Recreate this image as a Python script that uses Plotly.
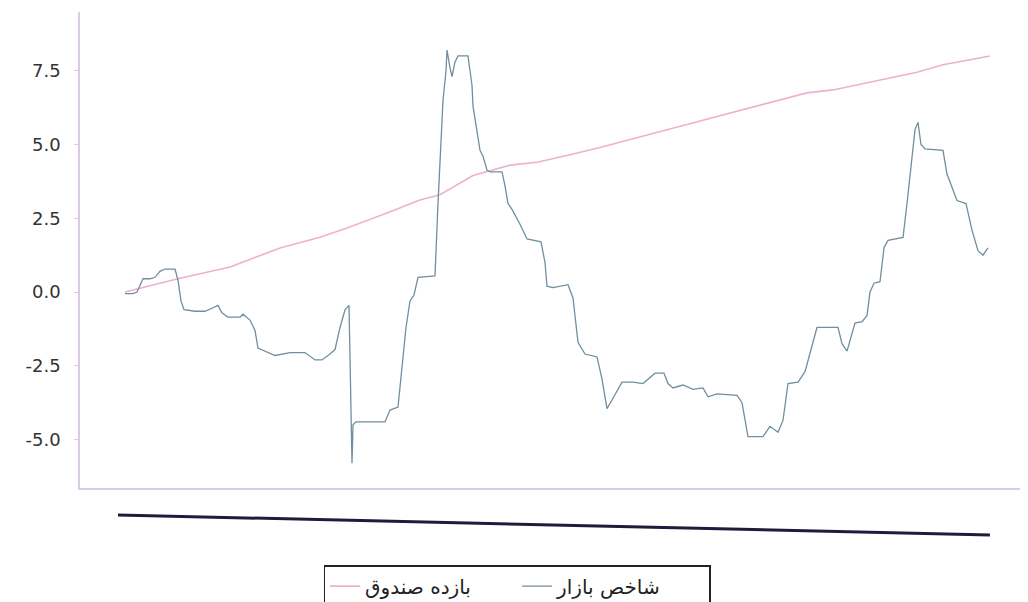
import plotly.graph_objects as go

# ---- data (x = trading-day index, y = cumulative return %) ----
fund_name = "بازده صندوق"
market_name = "شاخص بازار"

fund_x = [0, 55, 105, 155, 195, 222, 262, 295, 315, 348, 385, 412, 445, 475, 525,
          575, 625, 682, 708, 742, 792, 818, 858, 865]
fund_y = [0.0, 0.47, 0.85, 1.49, 1.86, 2.17, 2.68, 3.12, 3.3, 3.95, 4.3, 4.4, 4.65, 4.9, 5.35,
          5.8, 6.25, 6.75, 6.85, 7.1, 7.45, 7.7, 7.97, 8.0]

market_x = [0, 8, 12, 15, 18, 25, 30, 35, 40, 50, 53, 56, 59, 70, 80, 87, 93, 97, 103,
            115, 118, 125, 130, 133, 140, 150, 165, 180, 190, 197, 205, 210, 215, 220,
            224, 226, 227, 228, 231, 260, 265, 273, 277, 281, 285, 289, 293, 310, 313,
            315, 318, 321, 322, 325, 327, 330, 333, 343, 347, 348, 355, 358, 362, 365,
            377, 380, 383, 387, 395, 402, 410, 416, 420, 422, 428, 443, 448, 453, 460,
            472, 477, 482, 488, 497, 508, 518, 530, 539, 543, 548, 558, 568, 578, 583,
            592, 612, 617, 623, 638, 645, 653, 658, 663, 673, 680, 686, 692, 713, 717,
            722, 726, 730, 737, 742, 745, 749, 755, 759, 763, 778, 782, 786, 790, 793,
            796, 800, 818, 822, 832, 841, 847, 853, 858, 863]
market_y = [-0.05, -0.05, 0.0, 0.25, 0.45, 0.45, 0.5, 0.7, 0.78, 0.78, 0.4, -0.3, -0.6,
            -0.65, -0.65, -0.55, -0.45, -0.7, -0.85, -0.85, -0.75, -0.95, -1.3, -1.9, -2.0,
            -2.15, -2.05, -2.05, -2.3, -2.3, -2.1, -1.95, -1.2, -0.6, -0.45, -3.5, -5.8,
            -4.5, -4.4, -4.4, -4.0, -3.9, -2.5, -1.2, -0.3, -0.1, 0.5, 0.55, 3.0, 4.5, 6.5,
            7.5, 8.2, 7.6, 7.3, 7.8, 8.0, 8.0, 7.0, 6.3, 4.8, 4.6, 4.13, 4.07, 4.07, 3.6,
            3.0, 2.8, 2.3, 1.8, 1.75, 1.7, 1.0, 0.2, 0.15, 0.25, -0.2, -1.7, -2.1, -2.2,
            -2.95, -3.95, -3.6, -3.05, -3.05, -3.1, -2.75, -2.75, -3.1, -3.25, -3.15, -3.3,
            -3.25, -3.55, -3.45, -3.5, -3.75, -4.9, -4.9, -4.55, -4.75, -4.35, -3.1, -3.05,
            -2.7, -1.9, -1.2, -1.2, -1.75, -2.0, -1.5, -1.05, -1.0, -0.8, 0.0, 0.3, 0.35,
            1.5, 1.75, 1.85, 3.0, 4.2, 5.5, 5.75, 5.0, 4.85, 4.8, 4.0, 3.1, 3.0, 2.1, 1.4,
            1.25, 1.5]

y_ticks = [-5.0, -2.5, 0.0, 2.5, 5.0, 7.5]
y_tick_labels = ["-5.0", "-2.5", "0.0", "2.5", "5.0", "7.5"]

fig = go.Figure()
fig.add_trace(go.Scatter(x=fund_x, y=fund_y, mode="lines", name=fund_name,
                         line=dict(color="#eeb0d2", width=1.6)))
fig.add_trace(go.Scatter(x=market_x, y=market_y, mode="lines", name=market_name,
                         line=dict(color="#6f8f9e", width=1.3)))

axis_color = "#dccbe6"
fig.update_layout(
    width=1020, height=594,
    paper_bgcolor="white", plot_bgcolor="white",
    margin=dict(l=72, r=8, t=4, b=114, autoexpand=False),
    font=dict(family="DejaVu Sans", color="#333333", size=15),
    showlegend=True,
    legend=dict(orientation="h", x=0.465, xanchor="center", y=-0.162, yanchor="top",
                bordercolor="#222222", borderwidth=1.5, bgcolor="white",
                font=dict(family="DejaVu Sans", size=20, color="#222222"),
                itemwidth=30, traceorder="normal",
                entrywidth=147, entrywidthmode="pixels"),
    xaxis=dict(range=[-45, 895], showgrid=False, zeroline=False, showticklabels=False,
               ticks="", showline=True, linecolor=axis_color, linewidth=1.5),
    yaxis=dict(range=[-6.64, 9.49], showgrid=False, zeroline=False,
               tickvals=y_ticks, ticktext=y_tick_labels, ticks="outside", ticklen=4,
               tickcolor=axis_color, showline=True, linecolor=axis_color, linewidth=1.5,
               ticklabelstandoff=10, tickfont=dict(size=18, color="#333333")),
    shapes=[dict(type="line", xref="paper", yref="paper",
                 x0=0.0404, y0=-0.0567, x1=0.968, y1=-0.0987,
                 line=dict(color="#1c1c3c", width=3))],
)

fig.write_html("out.html")
